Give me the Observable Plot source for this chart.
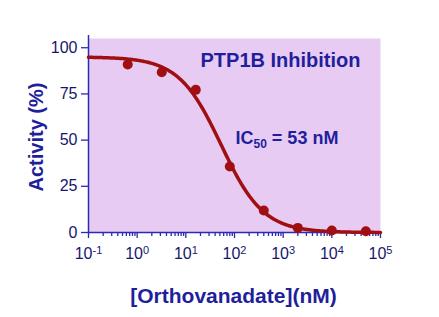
<!DOCTYPE html>
<html>
<head>
<meta charset="utf-8">
<script src="https://cdn.jsdelivr.net/npm/d3@7"></script>
<script src="https://cdn.jsdelivr.net/npm/@observablehq/plot@0.6"></script>
<style>
  html, body { margin: 0; padding: 0; background: #fff; }
  #chart svg { display: block; }
</style>
</head>
<body>
<div id="chart"></div>
<script>
// Orthovanadate concentrations (nM) and measured PTP1B activity (%)
const concentration = [0.64, 3.2, 16, 80, 400, 2000, 10000, 50000];
const activity = [90.9, 86.7, 77.2, 35.7, 11.9, 2.5, 1.1, 0.7];

// Four-parameter logistic fit parameters
const fitTop = 95;
const fitBottom = 0;
const ic50 = 53;
const hillSlope = 1;

// Axis ticks
const majorTicks = [0.1, 1, 10, 100, 1000, 10000, 100000];
const tickExponents = ["-1", "0", "1", "2", "3", "4", "5"];
const minorSteps = [2, 3, 4, 5, 6, 7, 8, 9];
const activityTicks = [0, 25, 50, 75, 100];

// Texts
const title = "PTP1B Inhibition";
const xLabel = "[Orthovanadate](nM)";
const yLabel = "Activity (%)";
const ic50Label = `IC50 = ${ic50} nM`;

const FONT = "'Liberation Sans', Arial, Helvetica, sans-serif";
const red = "#a00f12";
const axisBlue = "#2a2ab4";
const tickText = "#16166e";
const labelBlue = "#1f1f9c";

const points = concentration.map((c, i) => ({c, a: activity[i]}));
const minorTicks = majorTicks.slice(0, -1).flatMap(m => minorSteps.map(s => m * s));

// Fitted dose-response curve sampled on a log grid
const fitCurve = d3.range(0, 301).map(i => {
  const c = Math.pow(10, -1 + i * 0.02);
  return {c, a: fitBottom + (fitTop - fitBottom) / (1 + Math.pow(c / ic50, hillSlope))};
});

const svg = Plot.plot({
  width: 439,
  height: 317,
  marginLeft: 88,
  marginRight: 59,
  marginTop: 38,
  marginBottom: 85,
  style: {fontFamily: FONT, background: "#ffffff", overflow: "visible"},
  x: {type: "log", domain: [0.1, 1e5]},
  y: {domain: [0, 105]},
  marks: [
    Plot.frame({fill: "#e8cbf3", stroke: null}),
    // minor ticks on the log axis
    Plot.axisX(minorTicks, {tickSize: 4, tickFormat: () => "", stroke: axisBlue, strokeWidth: 1.3, label: null}),
    // decade ticks with labels
    Plot.axisX(majorTicks, {
      tickSize: 6, tickPadding: 9, fontSize: 16, strokeWidth: 1.3,
      stroke: axisBlue, fill: tickText, color: tickText,
      tickFormat: d => "10^" + tickExponents[majorTicks.indexOf(d)],
      label: null
    }),
    Plot.axisY(activityTicks, {
      tickSize: 7, tickPadding: 4, fontSize: 16, strokeWidth: 1.3,
      stroke: axisBlue, fill: tickText, color: tickText,
      label: null
    }),
    // axis lines
    Plot.ruleX([0.1], {y1: 0, y2: 106.6, stroke: axisBlue, strokeWidth: 1.5, clip: false}),
    Plot.ruleY([0], {x1: 0.1, x2: 1e5, stroke: axisBlue, strokeWidth: 1.5}),
    // fit and measurements
    Plot.line(fitCurve, {x: "c", y: "a", stroke: red, strokeWidth: 3.5, curve: "linear"}),
    Plot.dot(points, {x: "c", y: "a", r: 5, fill: red, stroke: null}),
    // annotations
    Plot.text([title], {frameAnchor: "top-left", dx: 112, dy: 22, textAnchor: "start", lineAnchor: "middle",
      fontSize: 20, fontWeight: "bold", fill: labelBlue}),
    Plot.text([ic50Label], {frameAnchor: "top-left", dx: 147, dy: 100, textAnchor: "start", lineAnchor: "middle",
      fontSize: 18, fontWeight: "bold", fill: labelBlue}),
    Plot.text([yLabel], {frameAnchor: "left", dx: -52, dy: 1.5, rotate: -90, textAnchor: "middle", lineAnchor: "middle",
      fontSize: 20, fontWeight: "bold", fill: labelBlue}),
    Plot.text([xLabel], {frameAnchor: "bottom", dx: -1, dy: 64, textAnchor: "middle", lineAnchor: "middle",
      fontSize: 21, fontWeight: "bold", fill: labelBlue})
  ]
});

// Superscript exponents on the decade labels
d3.select(svg).selectAll('g[aria-label="x-axis tick label"] text').each(function () {
  const [base, exp] = this.textContent.split("^");
  if (exp === undefined) return;
  const t = d3.select(this).text(null);
  t.append("tspan").text(base);
  t.append("tspan").attr("dy", -5).attr("font-size", 11).text(exp);
});

// Subscript in the IC50 annotation
d3.select(svg).selectAll("text").filter(function () { return this.textContent === ic50Label; }).each(function () {
  const t = d3.select(this).text(null);
  t.append("tspan").text("IC");
  t.append("tspan").attr("dy", 4).attr("font-size", 12).text("50");
  t.append("tspan").attr("dy", -4).text(` = ${ic50} nM`);
});

document.getElementById("chart").appendChild(svg);
</script>
</body>
</html>
